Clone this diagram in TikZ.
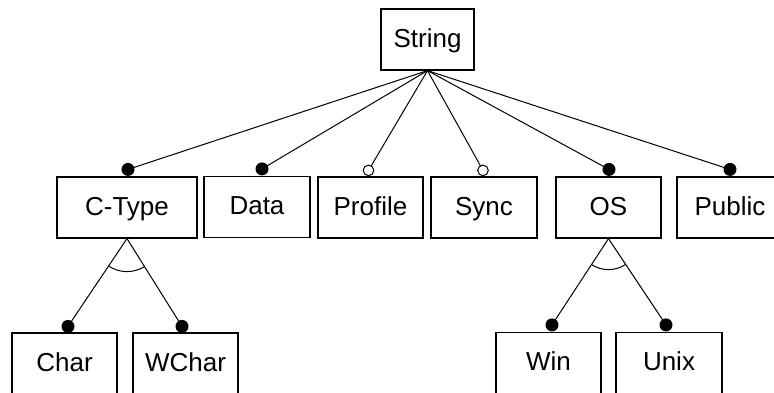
\documentclass[tikz,border=0pt]{standalone}
\usepackage{fontspec}
\setmainfont{Liberation Sans}
\usetikzlibrary{calc}
\begin{document}
\begin{tikzpicture}[x=1pt,y=1pt,
  feature/.style={draw, line width=1.2pt, minimum height=61pt, inner sep=0pt,
                  text height=20pt, text depth=5pt,
                  font=\fontsize{26}{30}\selectfont},
  edge/.style={line width=1pt},
  mandatory/.style={fill=black},
  optional/.style={draw, fill=white, line width=1pt}]
\useasboundingbox (0,0) rectangle (774,-392);

% features
\node[feature, minimum width=93pt]  (string)  at (427.5,-39.5)  {String};
\node[feature, minimum width=140pt] (ctype)   at (127,-207.5)   {C-Type};
\node[feature, minimum width=106pt] (data)    at (257,-207)     {Data};
\node[feature, minimum width=105pt] (profile) at (370.5,-207.5) {Profile};
\node[feature, minimum width=106pt] (sync)    at (484,-207.5)   {Sync};
\node[feature, minimum width=105pt] (os)      at (608.5,-207.5) {OS};
\node[feature, minimum width=106pt] (public)  at (730,-207.5)   {Public};
\node[feature, minimum width=105pt] (char)    at (64.5,-363.5)  {Char};
\node[feature, minimum width=105pt] (wchar)   at (185.5,-363.5) {WChar};
\node[feature, minimum width=105pt] (win)     at (548.5,-363)   {Win};
\node[feature, minimum width=106pt] (unix)    at (669,-363)     {Unix};

% connector end points just above the child boxes
\coordinate (d-ctype)   at ($(ctype.north)+(1,7)$);
\coordinate (d-data)    at ($(data.north)+(5,7)$);
\coordinate (d-profile) at ($(profile.north)+(-2,6)$);
\coordinate (d-sync)    at ($(sync.north)+(-1,6)$);
\coordinate (d-os)      at ($(os.north)+(0.5,7)$);
\coordinate (d-public)  at ($(public.north)+(0,7)$);
\coordinate (d-char)    at ($(char.north)+(3.5,6)$);
\coordinate (d-wchar)   at ($(wchar.north)+(-3.5,6)$);
\coordinate (d-win)     at ($(win.north)+(3.5,7)$);
\coordinate (d-unix)    at ($(unix.north)+(-3,7)$);

% edges from the root
\foreach \c in {ctype,data,profile,sync,os,public}
  \draw[edge] (string.south) -- (d-\c);

% alternative groups
\draw[edge] (ctype.south) -- (d-char);
\draw[edge] (ctype.south) -- (d-wchar);
\draw[edge] (os.south) -- (d-win);
\draw[edge] (os.south) -- (d-unix);

\draw[edge] let \p1=($(d-char)-(ctype.south)$), \p2=($(d-wchar)-(ctype.south)$),
  \n1={atan2(\y1,\x1)}, \n2={atan2(\y2,\x2)} in
  ($(ctype.south)+(\n1:33)$) arc[start angle=\n1, end angle=\n2, radius=33];
\draw[edge] let \p1=($(d-win)-(os.south)$), \p2=($(d-unix)-(os.south)$),
  \n1={atan2(\y1,\x1)}, \n2={atan2(\y2,\x2)} in
  ($(os.south)+(\n1:31)$) arc[start angle=\n1, end angle=\n2, radius=31];

% mandatory and optional markers
\foreach \c in {ctype,data,os,public,char,wchar,win,unix}
  \fill[mandatory] (d-\c) circle (6.5);
\foreach \c in {profile,sync}
  \draw[optional] (d-\c) circle (5.3);
\end{tikzpicture}
\end{document}
